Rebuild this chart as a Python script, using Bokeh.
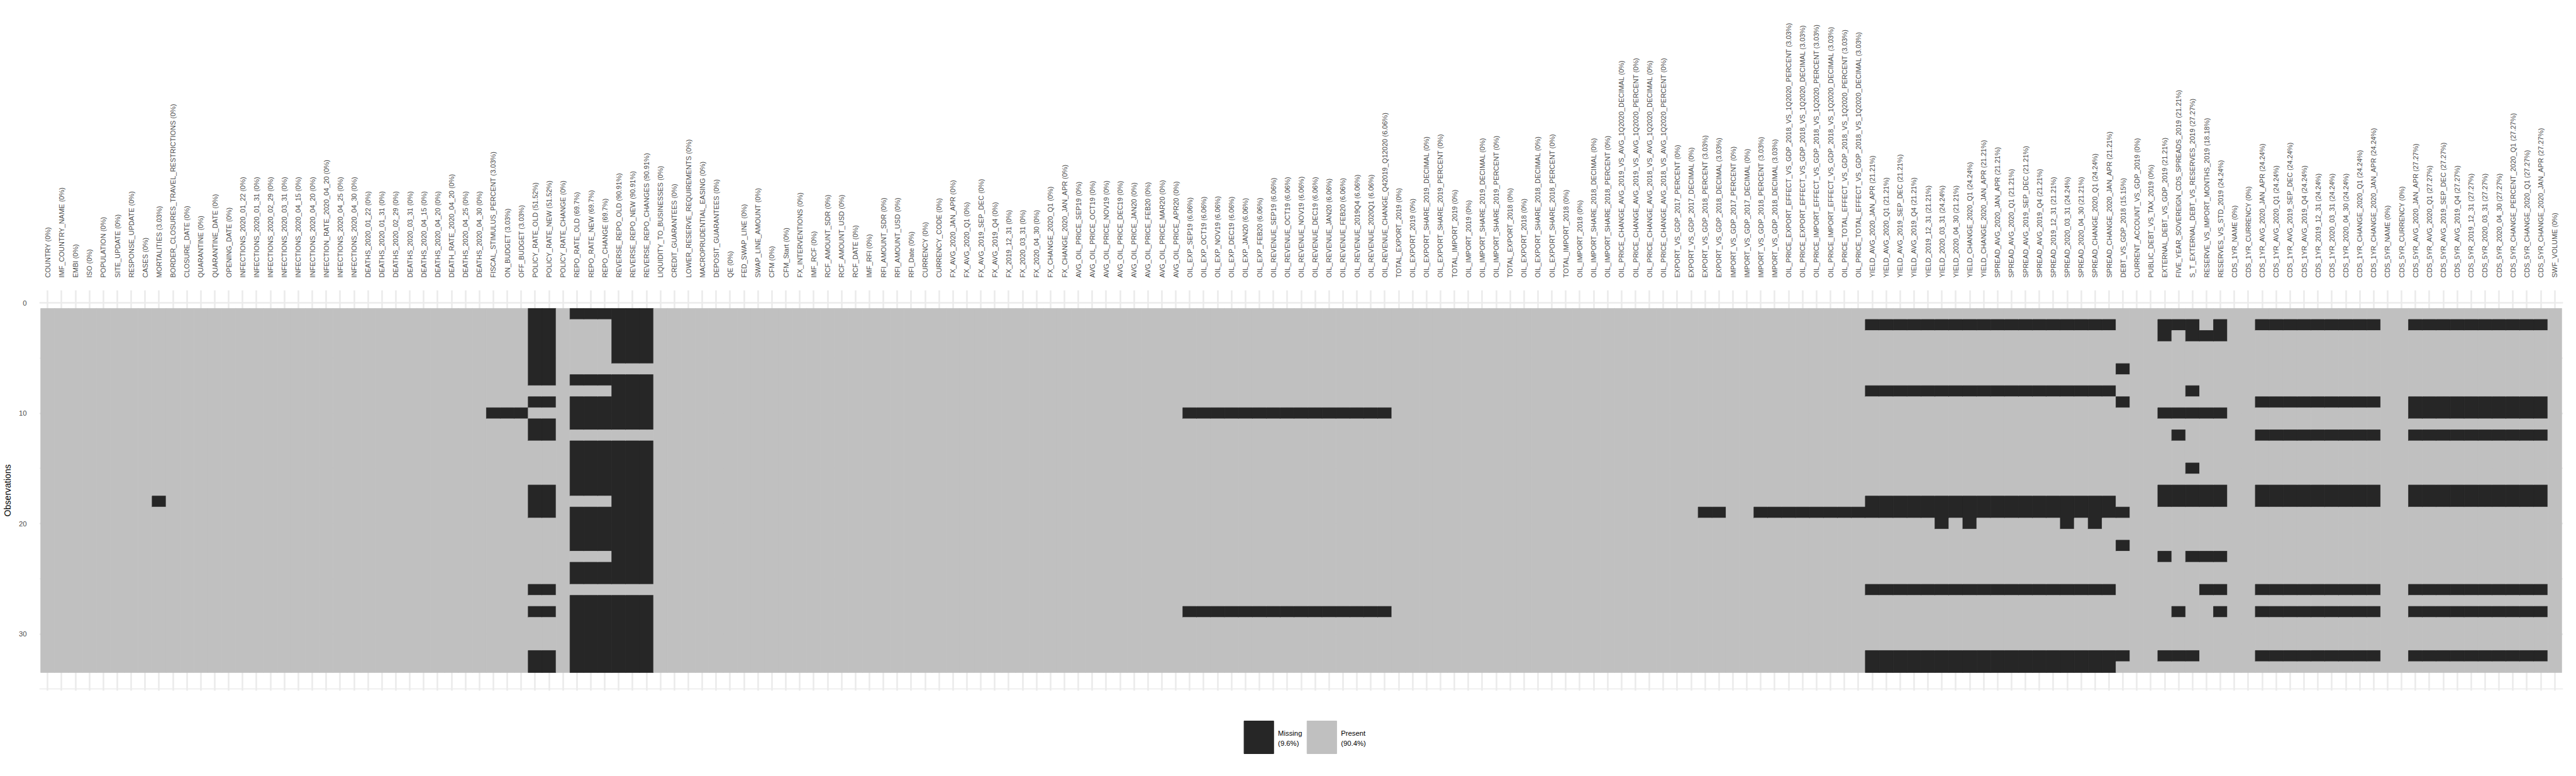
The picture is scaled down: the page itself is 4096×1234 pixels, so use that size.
from bokeh.plotting import figure
from bokeh.models import Range1d, FixedTicker, ColumnDataSource
from bokeh.layouts import column
from bokeh.embed import file_html
from bokeh.resources import INLINE
from bokeh.core.properties import value

# ---------------- data ----------------
N_ROWS = 33
Y_TICKS = [0, 10, 20, 30]
Y_MINOR = [5, 15, 25, 35]

COLUMNS = [
    "COUNTRY", "IMF_COUNTRY_NAME", "EMBI", "ISO", "POPULATION", "SITE_UPDATE",
    "RESPONSE_UPDATE", "CASES", "MORTALITIES", "BORDER_CLOSURES_TRAVEL_RESTRICTIONS",
    "CLOSURE_DATE", "QUARANTINE", "QUARANTINE_DATE", "OPENING_DATE",
    "INFECTIONS_2020_01_22", "INFECTIONS_2020_01_31", "INFECTIONS_2020_02_29",
    "INFECTIONS_2020_03_31", "INFECTIONS_2020_04_15", "INFECTIONS_2020_04_20",
    "INFECTION_RATE_2020_04_20", "INFECTIONS_2020_04_25", "INFECTIONS_2020_04_30",
    "DEATHS_2020_01_22", "DEATHS_2020_01_31", "DEATHS_2020_02_29", "DEATHS_2020_03_31",
    "DEATHS_2020_04_15", "DEATHS_2020_04_20", "DEATH_RATE_2020_04_20",
    "DEATHS_2020_04_25", "DEATHS_2020_04_30", "FISCAL_STIMULUS_PERCENT", "ON_BUDGET",
    "OFF_BUDGET", "POLICY_RATE_OLD", "POLICY_RATE_NEW", "POLICY_RATE_CHANGE",
    "REPO_RATE_OLD", "REPO_RATE_NEW", "REPO_CHANGE", "REVERSE_REPO_OLD",
    "REVERSE_REPO_NEW", "REVERSE_REPO_CHANGES", "LIQUIDITY_TO_BUSINESSES",
    "CREDIT_GUARANTEES", "LOWER_RESERVE_REQUIREMENTS", "MACROPRUDENTIAL_EASING",
    "DEPOSIT_GUARANTEES", "QE", "FED_SWAP_LINE", "SWAP_LINE_AMOUNT", "CFM", "CFM_Start",
    "FX_INTERVENTIONS", "IMF_RCF", "RCF_AMOUNT_SDR", "RCF_AMOUNT_USD", "RCF_DATE",
    "IMF_RFI", "RFI_AMOUNT_SDR", "RFI_AMOUNT_USD", "RFI_Date", "CURRENCY",
    "CURRENCY_CODE", "FX_AVG_2020_JAN_APR", "FX_AVG_2020_Q1", "FX_AVG_2019_SEP_DEC",
    "FX_AVG_2019_Q4", "FX_2019_12_31", "FX_2020_03_31", "FX_2020_04_30",
    "FX_CHANGE_2020_Q1", "FX_CHANGE_2020_JAN_APR", "AVG_OIL_PRICE_SEP19",
    "AVG_OIL_PRICE_OCT19", "AVG_OIL_PRICE_NOV19", "AVG_OIL_PRICE_DEC19",
    "AVG_OIL_PRICE_JAN20", "AVG_OIL_PRICE_FEB20", "AVG_OIL_PRICE_MAR20",
    "AVG_OIL_PRICE_APR20", "OIL_EXP_SEP19", "OIL_EXP_OCT19", "OIL_EXP_NOV19",
    "OIL_EXP_DEC19", "OIL_EXP_JAN20", "OIL_EXP_FEB20", "OIL_REVENUE_SEP19",
    "OIL_REVENUE_OCT19", "OIL_REVENUE_NOV19", "OIL_REVENUE_DEC19", "OIL_REVENUE_JAN20",
    "OIL_REVENUE_FEB20", "OIL_REVENUE_2019Q4", "OIL_REVENUE_2020Q1",
    "OIL_REVENUE_CHANGE_Q42019_Q12020", "TOTAL_EXPORT_2019", "OIL_EXPORT_2019",
    "OIL_EXPORT_SHARE_2019_DECIMAL", "OIL_EXPORT_SHARE_2019_PERCENT", "TOTAL_IMPORT_2019",
    "OIL_IMPORT_2019", "OIL_IMPORT_SHARE_2019_DECIMAL", "OIL_IMPORT_SHARE_2019_PERCENT",
    "TOTAL_EXPORT_2018", "OIL_EXPORT_2018", "OIL_EXPORT_SHARE_2018_DECIMAL",
    "OIL_EXPORT_SHARE_2018_PERCENT", "TOTAL_IMPORT_2018", "OIL_IMPORT_2018",
    "OIL_IMPORT_SHARE_2018_DECIMAL", "OIL_IMPORT_SHARE_2018_PERCENT",
    "OIL_PRICE_CHANGE_AVG_2019_VS_AVG_1Q2020_DECIMAL",
    "OIL_PRICE_CHANGE_AVG_2019_VS_AVG_1Q2020_PERCENT",
    "OIL_PRICE_CHANGE_AVG_2018_VS_AVG_1Q2020_DECIMAL",
    "OIL_PRICE_CHANGE_AVG_2018_VS_AVG_1Q2020_PERCENT",
    "EXPORT_VS_GDP_2017_PERCENT", "EXPORT_VS_GDP_2017_DECIMAL",
    "EXPORT_VS_GDP_2018_PERCENT", "EXPORT_VS_GDP_2018_DECIMAL",
    "IMPORT_VS_GDP_2017_PERCENT", "IMPORT_VS_GDP_2017_DECIMAL",
    "IMPORT_VS_GDP_2018_PERCENT", "IMPORT_VS_GDP_2018_DECIMAL",
    "OIL_PRICE_EXPORT_EFFECT_VS_GDP_2018_VS_1Q2020_PERCENT",
    "OIL_PRICE_EXPORT_EFFECT_VS_GDP_2018_VS_1Q2020_DECIMAL",
    "OIL_PRICE_IMPORT_EFFECT_VS_GDP_2018_VS_1Q2020_PERCENT",
    "OIL_PRICE_IMPORT_EFFECT_VS_GDP_2018_VS_1Q2020_DECIMAL",
    "OIL_PRICE_TOTAL_EFFECT_VS_GDP_2018_VS_1Q2020_PERCENT",
    "OIL_PRICE_TOTAL_EFFECT_VS_GDP_2018_VS_1Q2020_DECIMAL",
    "YIELD_AVG_2020_JAN_APR", "YIELD_AVG_2020_Q1", "YIELD_AVG_2019_SEP_DEC",
    "YIELD_AVG_2019_Q4", "YIELD_2019_12_31", "YIELD_2020_03_31", "YIELD_2020_04_30",
    "YIELD_CHANGE_2020_Q1", "YIELD_CHANGE_2020_JAN_APR", "SPREAD_AVG_2020_JAN_APR",
    "SPREAD_AVG_2020_Q1", "SPREAD_AVG_2019_SEP_DEC", "SPREAD_AVG_2019_Q4",
    "SPREAD_2019_12_31", "SPREAD_2020_03_31", "SPREAD_2020_04_30",
    "SPREAD_CHANGE_2020_Q1", "SPREAD_CHANGE_2020_JAN_APR", "DEBT_VS_GDP_2018",
    "CURRENT_ACCOUNT_VS_GDP_2019", "PUBLIC_DEBT_VS_TAX_2019", "EXTERNAL_DEBT_VS_GDP_2019",
    "FIVE_YEAR_SOVEREIGN_CDS_SPREADS_2019", "S_T_EXTERNAL_DEBT_VS_RESERVES_2019",
    "RESERVE_VS_IMPORT_MONTHS_2019", "RESERVES_VS_STD_2019", "CDS_1YR_NAME",
    "CDS_1YR_CURRENCY", "CDS_1YR_AVG_2020_JAN_APR", "CDS_1YR_AVG_2020_Q1",
    "CDS_1YR_AVG_2019_SEP_DEC", "CDS_1YR_AVG_2019_Q4", "CDS_1YR_2019_12_31",
    "CDS_1YR_2020_03_31", "CDS_1YR_2020_04_30", "CDS_1YR_CHANGE_2020_Q1",
    "CDS_1YR_CHANGE_2020_JAN_APR", "CDS_5YR_NAME", "CDS_5YR_CURRENCY",
    "CDS_5YR_AVG_2020_JAN_APR", "CDS_5YR_AVG_2020_Q1", "CDS_5YR_AVG_2019_SEP_DEC",
    "CDS_5YR_AVG_2019_Q4", "CDS_5YR_2019_12_31", "CDS_5YR_2020_03_31",
    "CDS_5YR_2020_04_30", "CDS_5YR_CHANGE_PERCENT_2020_Q1", "CDS_5YR_CHANGE_2020_Q1",
    "CDS_5YR_CHANGE_2020_JAN_APR", "SWF_VOLUME",
]

# rows (observation numbers, 1-based) that are missing, by pattern
ROWS_MORTALITIES = [18]
ROWS_FISCAL = [10]
ROWS_POLICY = [1, 2, 3, 4, 5, 6, 7, 9, 11, 12, 17, 18, 19, 26, 28, 32, 33]
ROWS_REPO = [1, 7, 9, 10, 11, 13, 14, 15, 16, 17, 19, 20, 21, 22, 24, 25,
             27, 28, 29, 30, 31, 32, 33]
ROWS_REVERSE_REPO = [1, 2, 3, 4, 5, 7, 8, 9, 10, 11, 13, 14, 15, 16, 17, 18, 19,
                     20, 21, 22, 23, 24, 25, 27, 28, 29, 30, 31, 32, 33]
ROWS_OIL = [10, 28]
ROWS_TRADE_GDP = [19]
ROWS_YIELD = [2, 8, 18, 19, 26, 32, 33]
ROWS_YIELD_Q1 = [2, 8, 18, 19, 20, 26, 32, 33]
ROWS_DEBT_GDP = [6, 9, 19, 22, 32]
ROWS_EXT_DEBT = [2, 3, 10, 17, 18, 23, 32]
ROWS_CDS_SPREADS = [2, 10, 12, 17, 18, 28, 32]
ROWS_ST_DEBT = [2, 3, 8, 10, 15, 17, 18, 23, 32]
ROWS_RES_IMPORT = [3, 10, 17, 18, 23, 26]
ROWS_RES_STD = [2, 3, 10, 17, 18, 23, 26, 28]
ROWS_CDS_1YR = [2, 9, 12, 17, 18, 26, 28, 32]
ROWS_CDS_5YR = [2, 9, 10, 12, 17, 18, 26, 28, 32]

MISSING = {
    "MORTALITIES": ROWS_MORTALITIES,
    "FISCAL_STIMULUS_PERCENT": ROWS_FISCAL, "ON_BUDGET": ROWS_FISCAL, "OFF_BUDGET": ROWS_FISCAL,
    "POLICY_RATE_OLD": ROWS_POLICY, "POLICY_RATE_NEW": ROWS_POLICY,
    "REPO_RATE_OLD": ROWS_REPO, "REPO_RATE_NEW": ROWS_REPO, "REPO_CHANGE": ROWS_REPO,
    "REVERSE_REPO_OLD": ROWS_REVERSE_REPO, "REVERSE_REPO_NEW": ROWS_REVERSE_REPO,
    "REVERSE_REPO_CHANGES": ROWS_REVERSE_REPO,
    "OIL_EXP_SEP19": ROWS_OIL, "OIL_EXP_OCT19": ROWS_OIL, "OIL_EXP_NOV19": ROWS_OIL,
    "OIL_EXP_DEC19": ROWS_OIL, "OIL_EXP_JAN20": ROWS_OIL, "OIL_EXP_FEB20": ROWS_OIL,
    "OIL_REVENUE_SEP19": ROWS_OIL, "OIL_REVENUE_OCT19": ROWS_OIL, "OIL_REVENUE_NOV19": ROWS_OIL,
    "OIL_REVENUE_DEC19": ROWS_OIL, "OIL_REVENUE_JAN20": ROWS_OIL, "OIL_REVENUE_FEB20": ROWS_OIL,
    "OIL_REVENUE_2019Q4": ROWS_OIL, "OIL_REVENUE_2020Q1": ROWS_OIL,
    "OIL_REVENUE_CHANGE_Q42019_Q12020": ROWS_OIL,
    "EXPORT_VS_GDP_2018_PERCENT": ROWS_TRADE_GDP, "EXPORT_VS_GDP_2018_DECIMAL": ROWS_TRADE_GDP,
    "IMPORT_VS_GDP_2018_PERCENT": ROWS_TRADE_GDP, "IMPORT_VS_GDP_2018_DECIMAL": ROWS_TRADE_GDP,
    "OIL_PRICE_EXPORT_EFFECT_VS_GDP_2018_VS_1Q2020_PERCENT": ROWS_TRADE_GDP,
    "OIL_PRICE_EXPORT_EFFECT_VS_GDP_2018_VS_1Q2020_DECIMAL": ROWS_TRADE_GDP,
    "OIL_PRICE_IMPORT_EFFECT_VS_GDP_2018_VS_1Q2020_PERCENT": ROWS_TRADE_GDP,
    "OIL_PRICE_IMPORT_EFFECT_VS_GDP_2018_VS_1Q2020_DECIMAL": ROWS_TRADE_GDP,
    "OIL_PRICE_TOTAL_EFFECT_VS_GDP_2018_VS_1Q2020_PERCENT": ROWS_TRADE_GDP,
    "OIL_PRICE_TOTAL_EFFECT_VS_GDP_2018_VS_1Q2020_DECIMAL": ROWS_TRADE_GDP,
    "YIELD_AVG_2020_JAN_APR": ROWS_YIELD, "YIELD_AVG_2020_Q1": ROWS_YIELD,
    "YIELD_AVG_2019_SEP_DEC": ROWS_YIELD, "YIELD_AVG_2019_Q4": ROWS_YIELD,
    "YIELD_2019_12_31": ROWS_YIELD, "YIELD_2020_03_31": ROWS_YIELD_Q1,
    "YIELD_2020_04_30": ROWS_YIELD, "YIELD_CHANGE_2020_Q1": ROWS_YIELD_Q1,
    "YIELD_CHANGE_2020_JAN_APR": ROWS_YIELD, "SPREAD_AVG_2020_JAN_APR": ROWS_YIELD,
    "SPREAD_AVG_2020_Q1": ROWS_YIELD, "SPREAD_AVG_2019_SEP_DEC": ROWS_YIELD,
    "SPREAD_AVG_2019_Q4": ROWS_YIELD, "SPREAD_2019_12_31": ROWS_YIELD,
    "SPREAD_2020_03_31": ROWS_YIELD_Q1, "SPREAD_2020_04_30": ROWS_YIELD,
    "SPREAD_CHANGE_2020_Q1": ROWS_YIELD_Q1, "SPREAD_CHANGE_2020_JAN_APR": ROWS_YIELD,
    "DEBT_VS_GDP_2018": ROWS_DEBT_GDP,
    "EXTERNAL_DEBT_VS_GDP_2019": ROWS_EXT_DEBT,
    "FIVE_YEAR_SOVEREIGN_CDS_SPREADS_2019": ROWS_CDS_SPREADS,
    "S_T_EXTERNAL_DEBT_VS_RESERVES_2019": ROWS_ST_DEBT,
    "RESERVE_VS_IMPORT_MONTHS_2019": ROWS_RES_IMPORT,
    "RESERVES_VS_STD_2019": ROWS_RES_STD,
    "CDS_1YR_AVG_2020_JAN_APR": ROWS_CDS_1YR, "CDS_1YR_AVG_2020_Q1": ROWS_CDS_1YR,
    "CDS_1YR_AVG_2019_SEP_DEC": ROWS_CDS_1YR, "CDS_1YR_AVG_2019_Q4": ROWS_CDS_1YR,
    "CDS_1YR_2019_12_31": ROWS_CDS_1YR, "CDS_1YR_2020_03_31": ROWS_CDS_1YR,
    "CDS_1YR_2020_04_30": ROWS_CDS_1YR, "CDS_1YR_CHANGE_2020_Q1": ROWS_CDS_1YR,
    "CDS_1YR_CHANGE_2020_JAN_APR": ROWS_CDS_1YR,
    "CDS_5YR_AVG_2020_JAN_APR": ROWS_CDS_5YR, "CDS_5YR_AVG_2020_Q1": ROWS_CDS_5YR,
    "CDS_5YR_AVG_2019_SEP_DEC": ROWS_CDS_5YR, "CDS_5YR_AVG_2019_Q4": ROWS_CDS_5YR,
    "CDS_5YR_2019_12_31": ROWS_CDS_5YR, "CDS_5YR_2020_03_31": ROWS_CDS_5YR,
    "CDS_5YR_2020_04_30": ROWS_CDS_5YR, "CDS_5YR_CHANGE_PERCENT_2020_Q1": ROWS_CDS_5YR,
    "CDS_5YR_CHANGE_2020_Q1": ROWS_CDS_5YR, "CDS_5YR_CHANGE_2020_JAN_APR": ROWS_CDS_5YR,
}

# ---------------- styles ----------------
FONT = "Liberation Sans"
COL_MISSING = "#262626"
COL_PRESENT = "#C0C0C0"
GRID = "#EBEBEB"
AXIS_TXT = "#4D4D4D"

n_cols = len(COLUMNS)

def fmt(v):
    return f"{v:g}"

labels = []
for name in COLUMNS:
    pct = round(100.0 * len(MISSING.get(name, [])) / N_ROWS, 2)
    labels.append(f"{name} ({fmt(pct)}%)")

# runs of equal state per column
left, right, top, bottom, color = [], [], [], [], []
total_missing = 0
for j, name in enumerate(COLUMNS, start=1):
    miss = set(MISSING.get(name, []))
    total_missing += len(miss)
    r = 1
    while r <= N_ROWS:
        state = r in miss
        s = r
        while r + 1 <= N_ROWS and ((r + 1) in miss) == state:
            r += 1
        left.append(j - 0.5)
        right.append(j + 0.5)
        top.append(s - 0.5)
        bottom.append(r + 0.5)
        color.append(COL_MISSING if state else COL_PRESENT)
        r += 1

src = ColumnDataSource(dict(left=left, right=right, top=top, bottom=bottom, color=color))

pad_y = 0.05 * N_ROWS
p = figure(
    frame_width=4013, frame_height=637,
    x_range=Range1d(0.4, n_cols + 0.6),
    y_range=Range1d(N_ROWS + 0.5 + pad_y, 0.5 - pad_y),
    x_axis_location="above",
    output_backend="svg", toolbar_location=None,
    min_border_left=55, min_border_right=12, min_border_top=461, min_border_bottom=10,
    outline_line_color=None, background_fill_color="white", border_fill_color="white",
)

p.quad(left="left", right="right", top="top", bottom="bottom", source=src,
       fill_color="color", line_color="color", line_width=0.8)

# x axis (column labels on top)
xt = list(range(1, n_cols + 1))
p.xaxis.ticker = FixedTicker(ticks=xt, minor_ticks=[])
overrides = {}
for i, lab in zip(xt, labels):
    overrides[i] = lab
    overrides[str(i)] = lab
p.xaxis.major_label_overrides = overrides
p.xaxis.major_label_orientation = "vertical"
p.xaxis.major_label_standoff = 14
p.xaxis.major_label_text_font = FONT
p.xaxis.major_label_text_font_size = "11px"
p.xaxis.major_label_text_color = AXIS_TXT
p.xaxis.axis_line_color = None
p.xaxis.major_tick_line_color = None
p.xaxis.minor_tick_line_color = None

# y axis
p.yaxis.ticker = FixedTicker(ticks=Y_TICKS, minor_ticks=Y_MINOR)
p.yaxis.major_label_text_font = FONT
p.yaxis.major_label_text_font_size = "11.3px"
p.yaxis.major_label_text_color = AXIS_TXT
p.yaxis.major_label_standoff = 14
p.yaxis.axis_line_color = None
p.yaxis.major_tick_line_color = None
p.yaxis.minor_tick_line_color = None
p.yaxis.axis_label = "Observations"
p.yaxis.axis_label_text_font = FONT
p.yaxis.axis_label_text_font_size = "14.1px"
p.yaxis.axis_label_text_font_style = "normal"
p.yaxis.axis_label_text_color = "black"
p.yaxis.axis_label_standoff = 7

p.xgrid.grid_line_color = GRID
p.xgrid.grid_line_width = 2.6
p.ygrid.grid_line_color = GRID
p.ygrid.grid_line_width = 2.6
p.ygrid.minor_grid_line_color = GRID
p.ygrid.minor_grid_line_width = 1.5

# ---------------- legend ----------------
total_cells = n_cols * N_ROWS
miss_pct = round(100.0 * total_missing / total_cells, 1)
pres_pct = round(100.0 - 100.0 * total_missing / total_cells, 1)
leg_names = ["Missing", "Present"]
leg_pcts = [f"({fmt(miss_pct)}%)", f"({fmt(pres_pct)}%)"]
leg_colors = [COL_MISSING, COL_PRESENT]

LW, LH = 4080, 110
lg = figure(width=LW, height=LH, x_range=Range1d(0, LW), y_range=Range1d(LH, 0),
            x_axis_location=None, y_axis_location=None,
            output_backend="svg", toolbar_location=None, min_border=0,
            outline_line_color=None, background_fill_color="white", border_fill_color="white")
lg.grid.visible = False

key_left = [1951, 2053]
key_w, key_top, key_h = 48, 38, 52
lg.quad(left=key_left, right=[k + key_w for k in key_left],
        top=[key_top] * 2, bottom=[key_top + key_h] * 2,
        fill_color=leg_colors, line_color=leg_colors)
tx = [k + key_w + 7 for k in key_left]
lg.text(x=tx, y=[key_top + 19] * 2, text=leg_names, text_font=value(FONT),
        text_font_size="11.3px", text_baseline="middle", text_align="left", text_color="black")
lg.text(x=tx, y=[key_top + 35] * 2, text=leg_pcts, text_font=value(FONT),
        text_font_size="11.3px", text_baseline="middle", text_align="left", text_color="black")

layout = column(p, lg, spacing=0)
open("out.html", "w").write(file_html(layout, INLINE))
